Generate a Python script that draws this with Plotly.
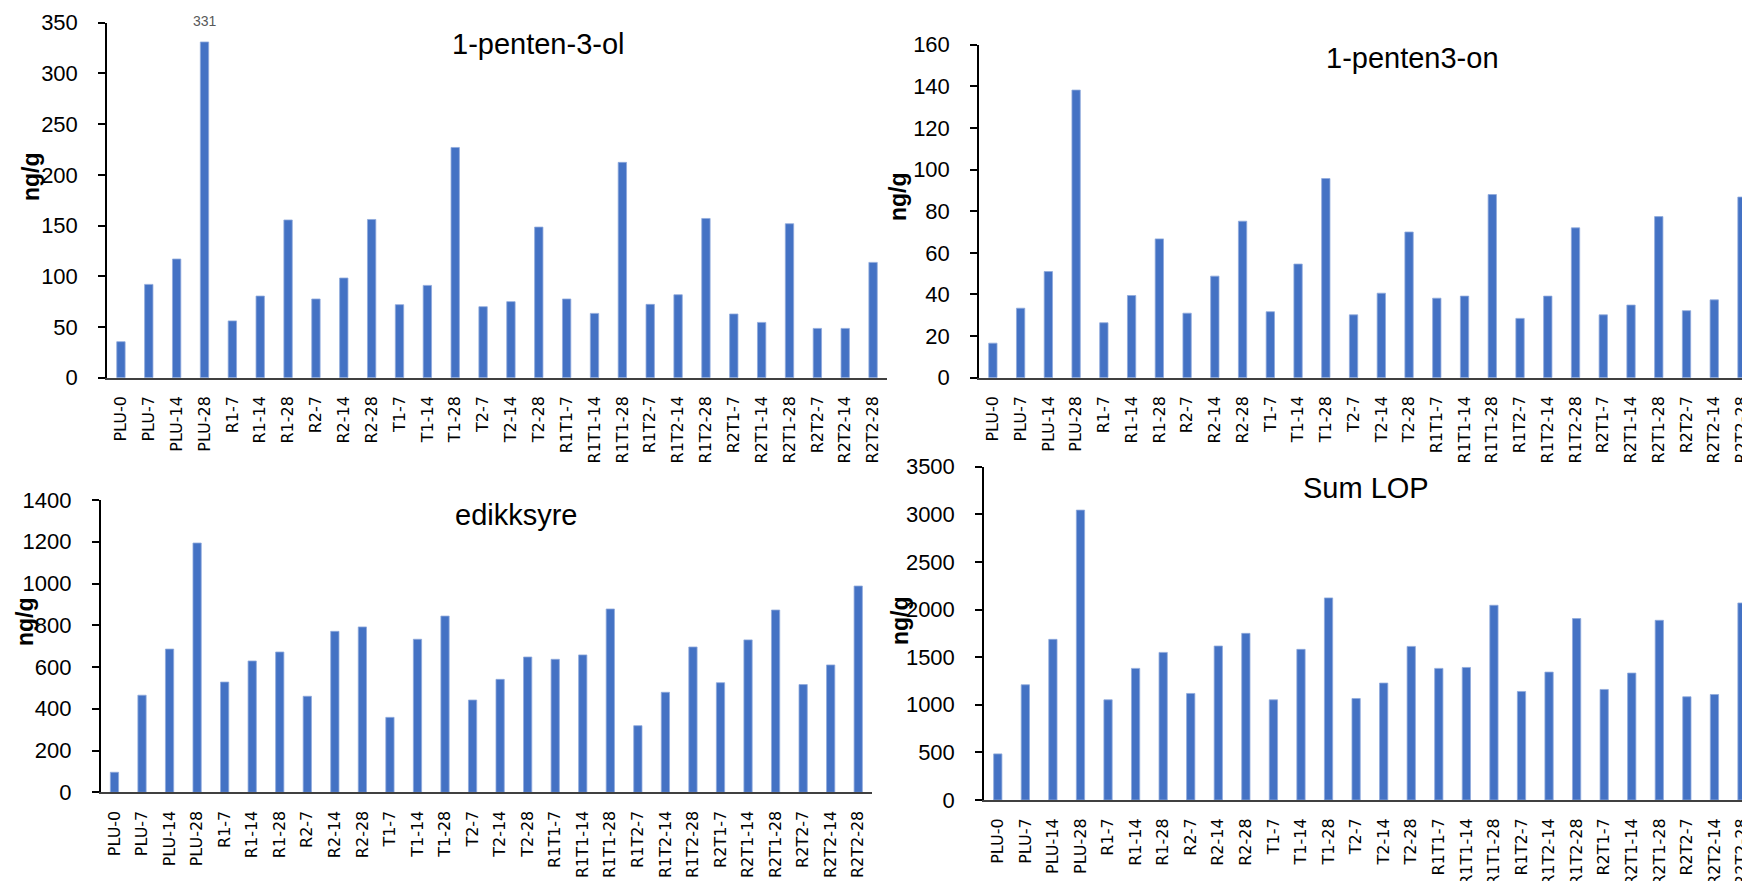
import plotly.graph_objects as go

categories = ["PLU-0", "PLU-7", "PLU-14", "PLU-28", "R1-7", "R1-14", "R1-28",
              "R2-7", "R2-14", "R2-28", "T1-7", "T1-14", "T1-28", "T2-7", "T2-14",
              "T2-28", "R1T1-7", "R1T1-14", "R1T1-28", "R1T2-7", "R1T2-14", "R1T2-28",
              "R2T1-7", "R2T1-14", "R2T1-28", "R2T2-7", "R2T2-14", "R2T2-28"]

penten_3_ol = [35.5, 92, 117, 331, 56, 80.5, 155.5, 77.6, 98.3, 156, 72, 91, 227,
               70, 75, 148.5, 77.6, 63.4, 212.3, 72.3, 81.8, 157, 62.8, 54.5, 151.8,
               48.6, 48.6, 113.7]
penten_3_on = [16.6, 33.4, 51, 138.2, 26.4, 39.5, 66.7, 31, 48.8, 75.2, 31.7, 54.6,
               95.7, 30.2, 40.6, 70, 38.2, 39.2, 88, 28.5, 39.2, 72, 30.2, 34.9, 77.4,
               32.2, 37.4, 86.8]
edikksyre = [96, 465, 686, 1194, 528, 629, 672, 460, 771, 792, 359, 733, 844, 442,
             541, 648, 637, 658, 878, 319, 479, 696, 525, 730, 873, 516, 610, 988]
sum_lop = [484, 1210, 1687, 3044, 1052, 1382, 1550, 1119, 1617, 1750, 1052, 1582,
           2122, 1066, 1228, 1613, 1382, 1392, 2045, 1140, 1343, 1905, 1161, 1333,
           1887, 1084, 1108, 2069]

titles = ["1-penten-3-ol", "1-penten3-on", "edikksyre", "Sum LOP"]
peak_label = "331"

W, H = 1742, 881
BAR = "#4472C4"
FONT = "Liberation Sans, Arial, sans-serif"

panels = [
    dict(v=penten_3_ol, x0=107, x1=887, xe=27.5, yb=377.7, yt=22.7, ymax=350, dt=50,
         title_xy=(538, 44), ytitle_xy=(31, 177)),
    dict(v=penten_3_on, x0=979, x1=W, xe=27.0, yb=377.7, yt=44.7, ymax=160, dt=20,
         title_xy=(1412, 58), ytitle_xy=(898, 197)),
    dict(v=edikksyre, x0=100.7, x1=872, xe=27.5, yb=792.3, yt=500, ymax=1400, dt=200,
         title_xy=(516, 515), ytitle_xy=(25, 622)),
    dict(v=sum_lop, x0=984, x1=W, xe=27.0, yb=800, yt=466.7, ymax=3500, dt=500,
         title_xy=(1366, 488), ytitle_xy=(900, 620)),
]

fig = go.Figure()
annotations = []
for i, p in enumerate(panels, start=1):
    xa = "x" if i == 1 else f"x{i}"
    ya = "y" if i == 1 else f"y{i}"
    fig.add_trace(go.Bar(x=categories, y=p["v"], xaxis=xa, yaxis=ya,
                         marker=dict(color=BAR, line=dict(color="#8FAADC", width=0.8)),
                         showlegend=False))
    xkey = "xaxis" if i == 1 else f"xaxis{i}"
    ykey = "yaxis" if i == 1 else f"yaxis{i}"
    fig.layout[xkey] = dict(
        domain=[p["x0"] / W, min(p["x1"] / W, 1.0)],
        anchor=ya, range=[-0.5, p["xe"]], type="category",
        showline=True, linecolor="#404040", linewidth=2,
        ticks="", tickangle=-90, showgrid=False, zeroline=False, automargin=False,
        tickfont=dict(family="DejaVu Sans", size=16, color="#000000"),
        ticklabelstandoff=10,
    )
    fig.layout[ykey] = dict(
        domain=[1 - p["yb"] / H, 1 - p["yt"] / H],
        anchor=xa, range=[0, p["ymax"]], dtick=p["dt"], tick0=0,
        showline=True, linecolor="#000000", linewidth=1.5,
        ticks="outside", ticklen=7, tickwidth=1.5, tickcolor="#000000",
        showgrid=False, zeroline=False, automargin=False,
        tickfont=dict(family=FONT, size=22, color="#000000"),
        ticklabelstandoff=16,
    )
    tx, ty = p["title_xy"]
    annotations.append(dict(text=titles[i - 1], x=tx / W, y=1 - ty / H, xref="paper", yref="paper",
                            xanchor="center", yanchor="middle", showarrow=False,
                            font=dict(family=FONT, size=29, color="#000000")))
    yx, yy = p["ytitle_xy"]
    annotations.append(dict(text="<b>ng/g</b>", x=yx / W, y=1 - yy / H, xref="paper", yref="paper",
                            xanchor="center", yanchor="middle", showarrow=False, textangle=-90,
                            font=dict(family=FONT, size=23, color="#000000")))

annotations.append(dict(text=peak_label, x="PLU-28", y=penten_3_ol[3], xref="x", yref="y",
                        xanchor="center", yanchor="bottom", yshift=11, showarrow=False,
                        font=dict(family=FONT, size=14, color="#595959")))

fig.update_layout(width=W, height=H, margin=dict(l=0, r=0, t=0, b=0, pad=0, autoexpand=False),
                  paper_bgcolor="white", plot_bgcolor="white",
                  bargap=0.7, annotations=annotations)

fig.write_html("out.html", config={"displayModeBar": False},
               post_script="document.body.style.margin='0';document.body.style.overflow='hidden';"
                           "document.documentElement.style.overflow='hidden';")
